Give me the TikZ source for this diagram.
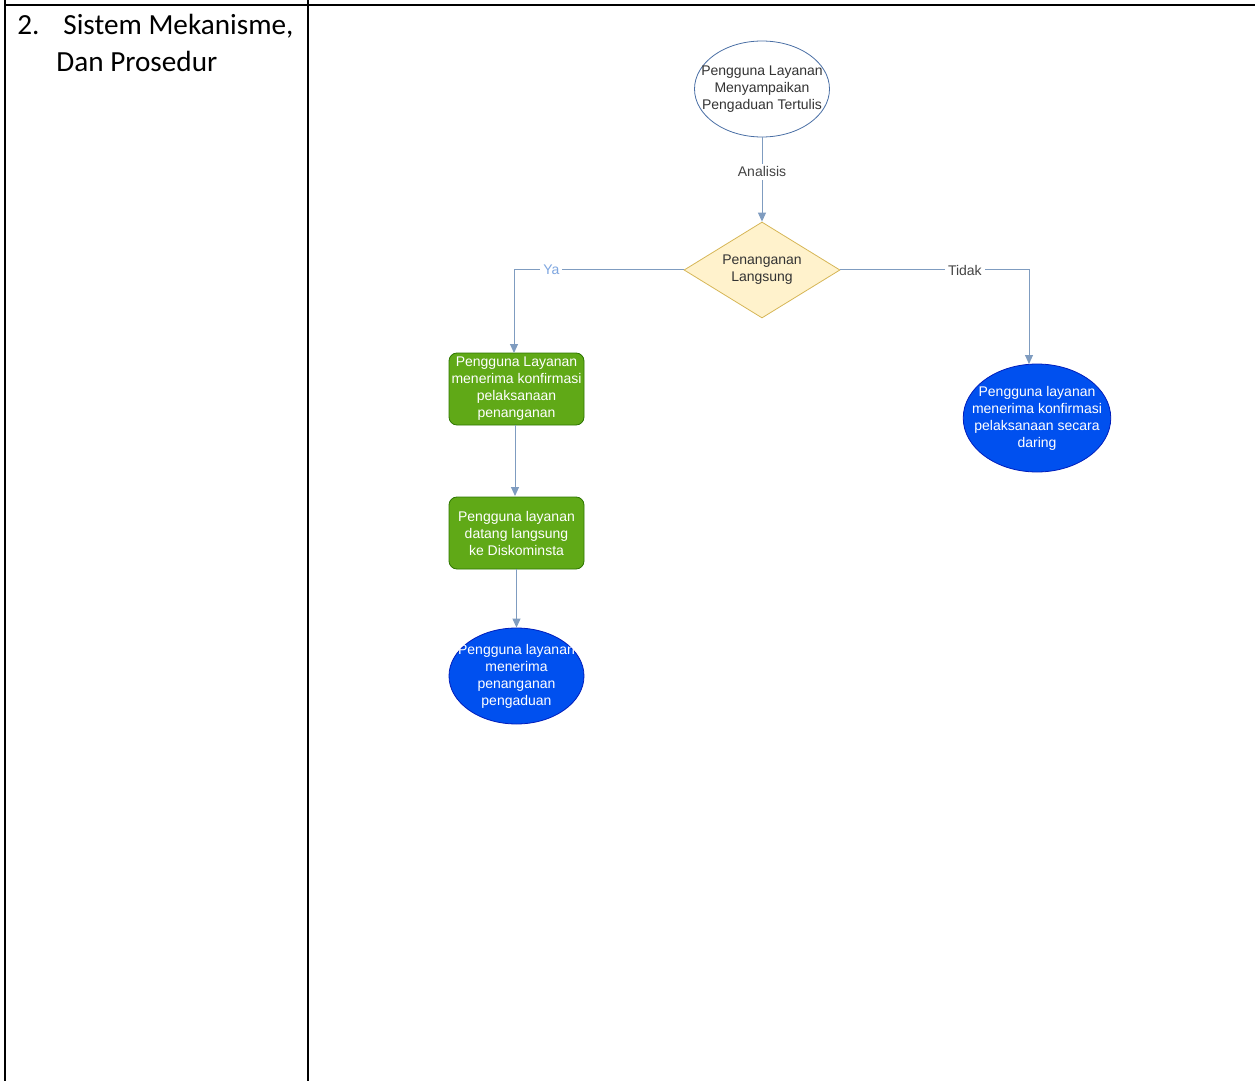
\documentclass[tikz,border=0pt]{standalone}
\usepackage{fontspec}
\setmainfont{Carlito}
\newfontfamily\flowfont{Liberation Sans}
\usetikzlibrary{shapes.geometric,arrows.meta}

\definecolor{edgeblue}{HTML}{7F9CC0}
\definecolor{startline}{HTML}{4A6FA5}
\definecolor{yacolor}{HTML}{7EA6E0}
\definecolor{labelgray}{HTML}{444444}
\definecolor{decfill}{HTML}{FFF2CC}
\definecolor{decline}{HTML}{D6B656}
\definecolor{actfill}{HTML}{60A917}
\definecolor{actline}{HTML}{2D7600}
\definecolor{endfill}{HTML}{0050EF}
\definecolor{endline}{HTML}{001DBC}

\tikzset{
  flowtext/.style={font=\flowfont\fontsize{7}{8.5}\selectfont, align=center},
  starttext/.style={font=\fontsize{14.6}{18.5}\selectfont, anchor=base west, inner sep=0pt},
  startnode/.style={ellipse, draw=startline, fill=white, flowtext, text=black!80,
    minimum width=67pt, minimum height=48pt, inner xsep=-6.5pt, inner ysep=0pt},
  decnode/.style={diamond, draw=decline, fill=decfill, flowtext, text=black!80,
    minimum width=78pt, minimum height=48pt, aspect=1.625, inner sep=0pt},
  actnode/.style={rectangle, rounded corners=4pt, draw=actline, fill=actfill, flowtext,
    text=white, minimum width=67.5pt, minimum height=36pt, inner sep=0pt},
  endnode/.style={ellipse, draw=endline, fill=endfill, flowtext, text=white, inner ysep=-1pt},
  flow/.style={draw=edgeblue, line width=0.5pt, -{Triangle[length=4.5pt,width=4pt]}},
  edgelabel/.style={fill=white, flowtext, inner sep=1.5pt}
}

\begin{document}
\begin{tikzpicture}[x=0.5pt, y=-0.5pt]
	\useasboundingbox (0,0) rectangle (1255,1081);
	% table frame
	\draw[line width=1pt] (5,0) -- (5,1081);
	\draw[line width=1pt] (308,0) -- (308,1081);
	\draw[line width=1pt] (4,5) -- (1255,5);
	\node[starttext] (num) at (17,35) {2.};
	\node[starttext] (title) at (63,35) {Sistem Mekanisme,};
	\node[starttext] (title2) at (56,72) {Dan Prosedur};

	% flowchart
	\node[startnode] (start) at (762,89) {Pengguna Layanan\\Menyampaikan\\Pengaduan Tertulis};
	\node[decnode] (dec) at (762,270) {Penanganan\\Langsung};
	\node[actnode] (konf) at (516.5,389) {Pengguna Layanan\\menerima konfirmasi\\pelaksanaan\\penanganan};
	\node[actnode] (datang) at (516.5,533) {Pengguna layanan\\datang langsung\\ke Diskominsta};
	\node[endnode, minimum width=67.5pt, minimum height=48pt, inner xsep=-5.4pt] (terima) at (516.5,676) {Pengguna layanan\\menerima\\penanganan\\pengaduan};
	\node[endnode, minimum width=73pt, minimum height=54pt, inner xsep=-6.4pt] (daring) at (1037,418) {Pengguna layanan\\menerima konfirmasi\\pelaksanaan secara\\daring};

	\draw[flow] (start) -- node[edgelabel, text=labelgray, pos=0.41] {Analisis} (dec);
	\draw[flow] (dec.west) -| node[edgelabel, text=yacolor, pos=0.39] {Ya} (514,353);
	\draw[flow] (dec.east) -| node[edgelabel, text=labelgray, pos=0.33] {Tidak} (1029,364);
	\draw[flow] (515,425) -- (515,496);
	\draw[flow] (datang.south) -- (terima.north);
\end{tikzpicture}
\end{document}
